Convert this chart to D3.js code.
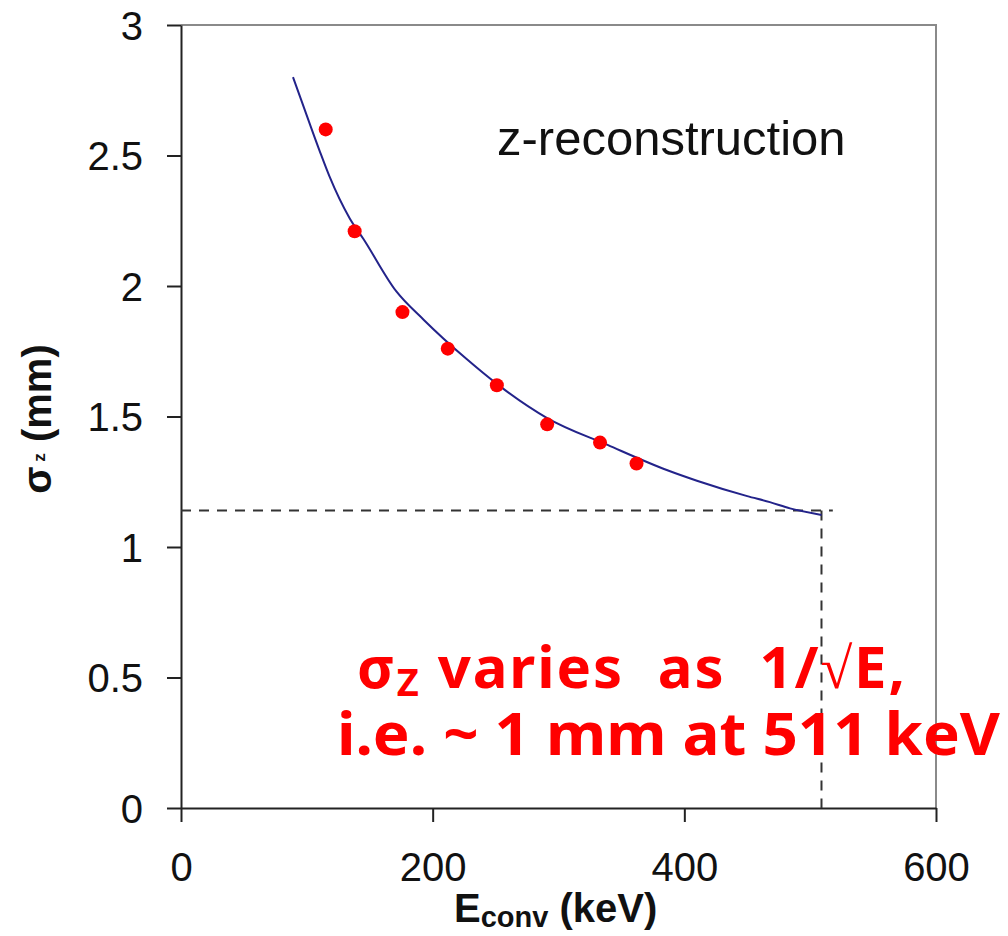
<!DOCTYPE html>
<html>
<head>
<meta charset="utf-8">
<script src="https://cdn.jsdelivr.net/npm/d3@7"></script>
<style>
  body { margin: 0; background: #fff; }
</style>
</head>
<body>
<div id="chart"></div>
<script>
// measured points (red dots)
const energies = [115, 138, 176, 212, 251, 291, 333, 362];
const sigmas = [2.60, 2.21, 1.90, 1.76, 1.62, 1.47, 1.40, 1.32];

// fitted curve
const fitE = [89, 95, 110, 118, 134, 145, 171, 193, 227, 251, 291, 339, 386, 410, 450, 468, 484, 509];
const fitSigma = [2.80, 2.72, 2.52, 2.42, 2.26, 2.18, 1.98, 1.87, 1.72, 1.625, 1.494, 1.391, 1.295, 1.254, 1.195, 1.172, 1.148, 1.123];

// dashed guide lines
const refE = 509;
const refSigma = 1.14;
const refEnd = 518;

const xTicks = [0, 200, 400, 600];
const yTicks = [0, 0.5, 1, 1.5, 2, 2.5, 3];

var width = 1008, height = 936;
var margin = {left: 181, right: 936, top: 25, bottom: 808};

var svg = d3.select("#chart")
  .append("svg")
  .attr("width", width)
  .attr("height", height);

var x = d3.scaleLinear().domain([0, 600]).range([margin.left, margin.right]);
var y = d3.scaleLinear().domain([0, 3]).range([margin.bottom, margin.top]);

// grey frame top and right
svg.append("path")
  .attr("d", `M${margin.left},${margin.top}H${margin.right}V${margin.bottom}`)
  .attr("fill", "none")
  .attr("stroke", "#8a8a8a")
  .attr("stroke-width", 2);

// axes
var yAxis = svg.append("g")
  .attr("transform", `translate(${margin.left},0)`)
  .call(d3.axisLeft(y).tickValues(yTicks).tickSize(14).tickSizeOuter(0).tickPadding(24)
    .tickFormat(d3.format("")));

var xAxis = svg.append("g")
  .attr("transform", `translate(0,${margin.bottom})`)
  .call(d3.axisBottom(x).tickValues(xTicks).tickSize(14).tickSizeOuter(0).tickPadding(31));

[yAxis, xAxis].forEach(g => {
  g.attr("font-family", "Liberation Sans, Arial, sans-serif").attr("font-size", 40);
  g.select(".domain").attr("stroke", "#222").attr("stroke-width", 2);
  g.selectAll(".tick line").attr("stroke", "#222").attr("stroke-width", 2);
  g.selectAll(".tick text").attr("fill", "#111");
});
yAxis.selectAll(".tick text").attr("dy", "0.35em");

// dashed guides
svg.append("line")
  .attr("x1", x(0)).attr("x2", x(refEnd))
  .attr("y1", y(refSigma)).attr("y2", y(refSigma))
  .attr("stroke", "#333").attr("stroke-width", 2)
  .attr("stroke-dasharray", "10,8");

svg.append("line")
  .attr("x1", x(refE)).attr("x2", x(refE))
  .attr("y1", y(refSigma)).attr("y2", y(0))
  .attr("stroke", "#333").attr("stroke-width", 2)
  .attr("stroke-dasharray", "10,8");

// fit curve
var line = d3.line()
  .x((d, i) => x(fitE[i]))
  .y(d => y(d))
  .curve(d3.curveMonotoneX);

svg.append("path")
  .datum(fitSigma)
  .attr("d", line)
  .attr("fill", "none")
  .attr("stroke", "#23238a")
  .attr("stroke-width", 2);

// dots
svg.append("g")
  .selectAll("circle")
  .data(sigmas)
  .join("circle")
  .attr("cx", (d, i) => x(energies[i]))
  .attr("cy", d => y(d))
  .attr("r", 7)
  .attr("fill", "#ff0000");

// inner title
svg.append("text")
  .attr("x", 497)
  .attr("y", 155)
  .attr("font-family", "Liberation Sans, Arial, sans-serif")
  .attr("font-size", 49)
  .attr("fill", "#111")
  .text("z-reconstruction");

// x axis title
var xt = svg.append("text")
  .attr("x", 454)
  .attr("y", 922)
  .attr("font-family", "Liberation Sans, Arial, sans-serif")
  .attr("font-weight", "bold")
  .attr("font-size", 40)
  .attr("fill", "#111");
xt.append("tspan").text("E");
xt.append("tspan").attr("font-size", 29).attr("dy", 5).text("conv");
xt.append("tspan").attr("dy", -5).text(" (keV)");

// y axis title
var yt = svg.append("text")
  .attr("transform", "translate(51,419) rotate(-90)")
  .attr("text-anchor", "middle")
  .attr("font-family", "Liberation Sans, Arial, sans-serif")
  .attr("font-weight", "bold")
  .attr("font-size", 40)
  .attr("fill", "#111");
yt.append("tspan").text("σ");
yt.append("tspan").attr("font-size", 17).attr("dy", -6).text(" z");
yt.append("tspan").attr("dy", 6).text(" (mm)");

// red note
var n1 = svg.append("text")
  .attr("x", 357)
  .attr("y", 688)
  .attr("font-family", "Noto Sans, DejaVu Sans, sans-serif")
  .attr("font-weight", "bold")
  .attr("font-size", 58)
  .attr("fill", "#ff0000")
  .attr("textLength", 548)
  .attr("lengthAdjust", "spacing")
  .style("white-space", "pre");
n1.append("tspan").text("σ");
n1.append("tspan").attr("font-size", 38).attr("dy", 8).text("Z");
n1.append("tspan").attr("dy", -8).text(" varies  as  1/");
n1.append("tspan").attr("font-family", "Liberation Serif, serif").attr("font-weight", "normal").text("√");
n1.append("tspan").text("E,");

svg.append("text")
  .attr("x", 337)
  .attr("y", 755)
  .attr("font-family", "Noto Sans, DejaVu Sans, sans-serif")
  .attr("font-weight", "bold")
  .attr("font-size", 60)
  .attr("fill", "#ff0000")
  .attr("textLength", 663)
  .attr("lengthAdjust", "spacingAndGlyphs")
  .text("i.e. ~ 1 mm at 511 keV");
</script>
</body>
</html>
